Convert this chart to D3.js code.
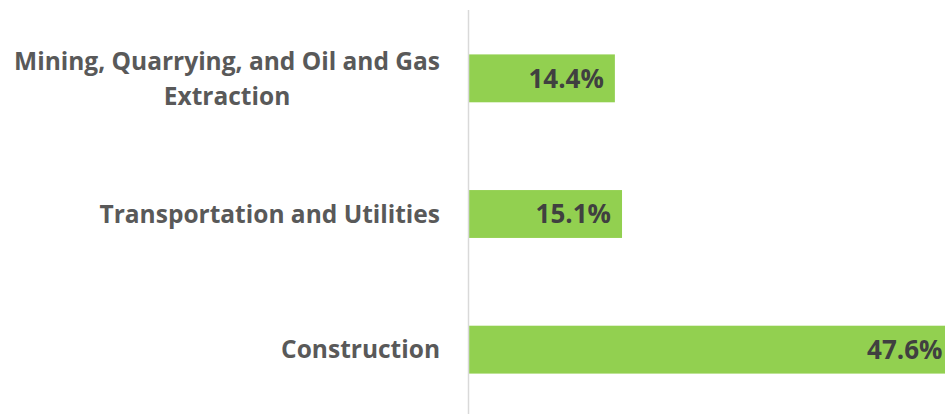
<!DOCTYPE html>
<html>
<head>
<meta charset="utf-8">
<script src="https://cdn.jsdelivr.net/npm/d3@7"></script>
<style>
  body { margin: 0; background: #fff; }
  svg { display: block; }
</style>
</head>
<body>
<div id="chart"></div>
<script>
// industries, top to bottom
var categories = [
  ['Mining, Quarrying, and Oil and Gas', 'Extraction'],
  ['Transportation and Utilities'],
  ['Construction']
];
var values = [14.4, 15.1, 47.6];
var valueLabels = ['14.4%', '15.1%', '47.6%'];

var w = 945, h = 414;
var axisX = 468;
var font = '"Open Sans", Lato, sans-serif';

var svg = d3.select('#chart').append('svg')
  .attr('width', w)
  .attr('height', h);

var x = d3.scaleLinear()
  .domain([0, 50])
  .range([axisX, axisX + 510]);

var y = d3.scaleBand()
  .domain(d3.range(categories.length))
  .range([11, 417])
  .paddingInner(0.647)
  .paddingOuter(0.32);

// bars
svg.selectAll('.bar').data(values)
  .enter().append('rect')
  .attr('class', 'bar')
  .attr('x', x(0))
  .attr('y', function(d, i) { return y(i); })
  .attr('width', function(d) { return x(d) - x(0); })
  .attr('height', y.bandwidth())
  .attr('fill', '#92d050');

// category axis line
svg.append('line')
  .attr('x1', axisX + 0.5).attr('x2', axisX + 0.5)
  .attr('y1', 10).attr('y2', h)
  .attr('stroke', '#d9d9d9')
  .attr('stroke-width', 1.5);

// value labels, right aligned inside the bar end
svg.selectAll('.val').data(values)
  .enter().append('text')
  .attr('class', 'val')
  .attr('x', function(d) { return x(d) - 11; })
  .attr('y', function(d, i) { return y(i) + y.bandwidth() / 2; })
  .attr('dy', '0.36em')
  .attr('text-anchor', 'end')
  .attr('font-family', font)
  .attr('font-weight', 'bold')
  .attr('font-size', 26)
  .attr('fill', '#404040')
  .text(function(d, i) { return valueLabels[i]; });

// category labels (multi-line ones are centred under the first line)
var lineH = 35;
categories.forEach(function(lines, i) {
  var cy = y(i) + y.bandwidth() / 2;
  var top = cy - (lines.length - 1) * lineH / 2;
  var first = svg.append('text')
    .attr('x', 440)
    .attr('y', top)
    .attr('dy', '0.36em')
    .attr('text-anchor', 'end')
    .attr('font-family', font)
    .attr('font-weight', 'bold')
    .attr('font-size', 24.5)
    .attr('fill', '#595959')
    .text(lines[0]);
  var len = first.node().getComputedTextLength();
  for (var k = 1; k < lines.length; k++) {
    svg.append('text')
      .attr('x', 440 - len / 2)
      .attr('y', top + k * lineH)
      .attr('dy', '0.36em')
      .attr('text-anchor', 'middle')
      .attr('font-family', font)
      .attr('font-weight', 'bold')
      .attr('font-size', 24.5)
      .attr('fill', '#595959')
      .text(lines[k]);
  }
});
</script>
</body>
</html>
